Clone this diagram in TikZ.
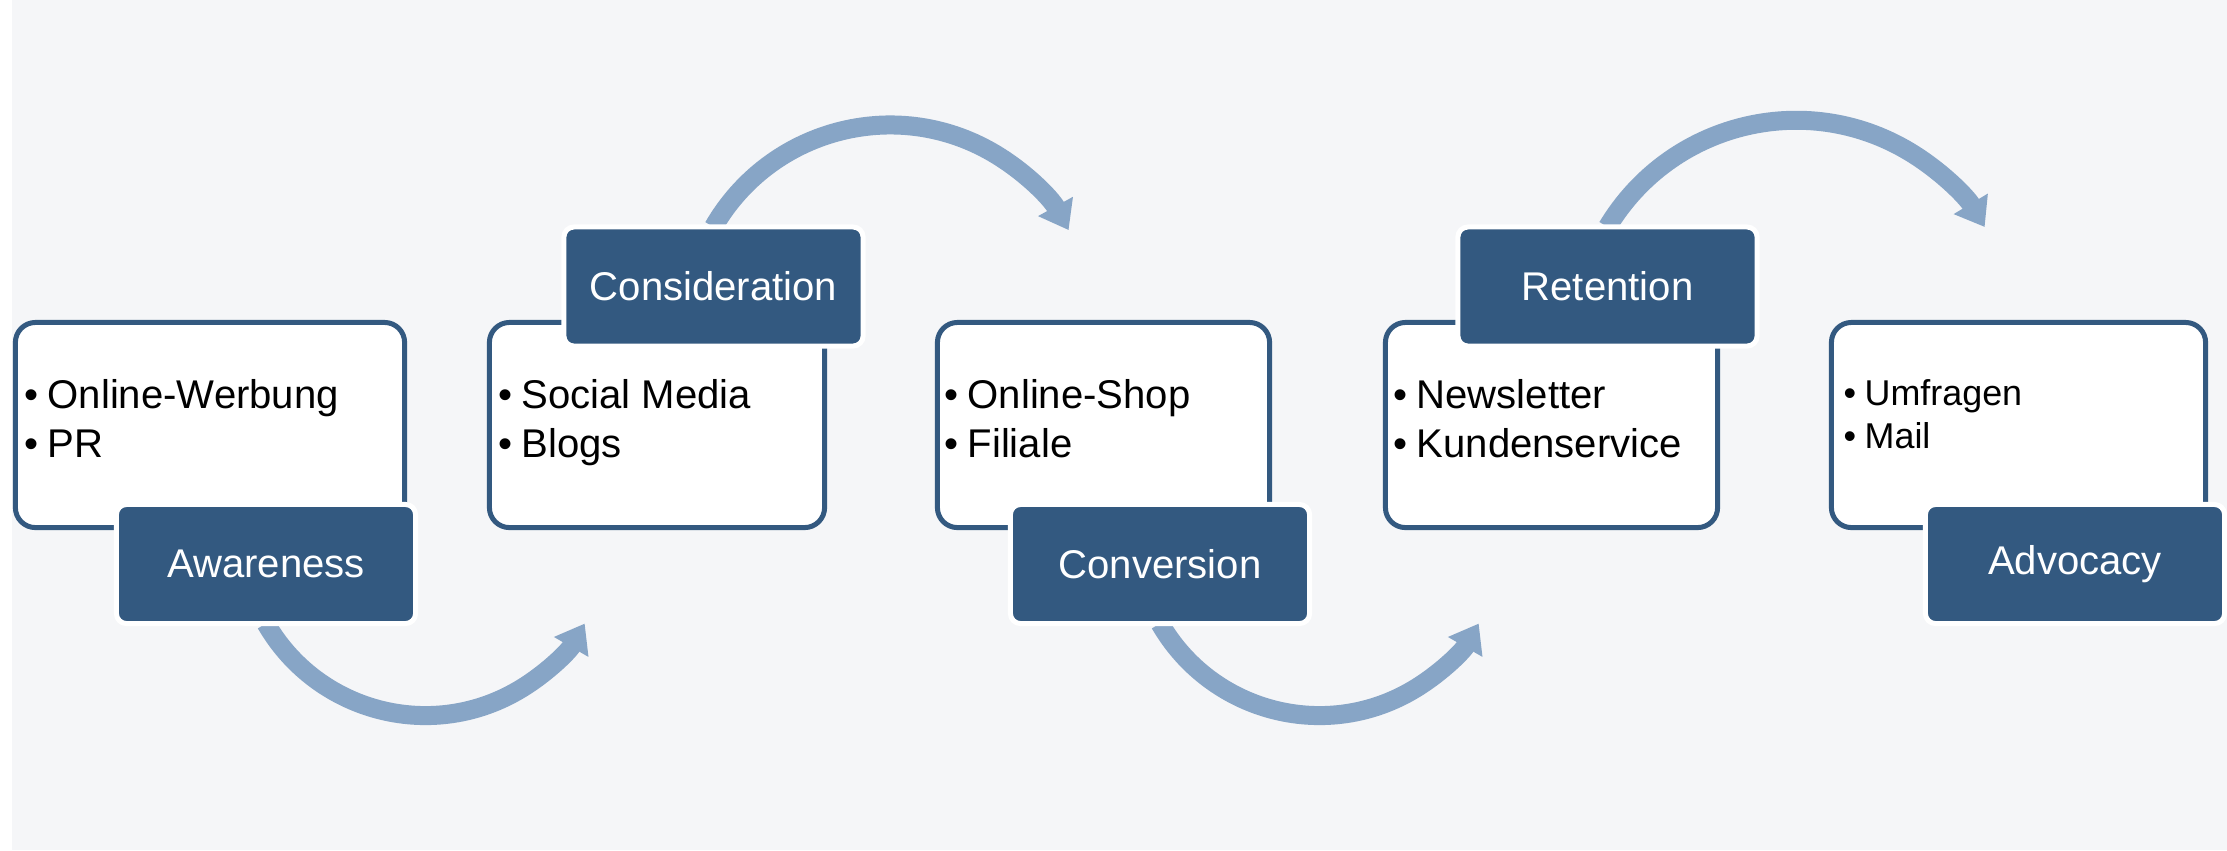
\documentclass[tikz,border=0pt]{standalone}
\usepackage{fontspec}
\setmainfont{Liberation Sans}
\usetikzlibrary{arrows.meta}
\definecolor{stageblue}{RGB}{51,89,128}
\definecolor{flowblue}{RGB}{135,165,198}
\definecolor{paper}{RGB}{245,246,248}
\pgfdeclarelayer{bg}
\pgfdeclarelayer{flow}
\pgfsetlayers{bg,flow,main}
\tikzset{
  listbox/.style={draw=stageblue, line width=0.05cm, fill=white, rounded corners=0.2cm,
    minimum height=2.05cm, inner sep=0pt},
  stage/.style={draw=white, line width=0.05cm, fill=stageblue, rounded corners=0.1cm,
    minimum width=2.99cm, minimum height=1.19cm, inner sep=0pt, outer sep=0pt,
    text=white, font=\fontsize{11.4}{13.7}\selectfont},
  items/.style={anchor=base west, inner sep=0pt, font=\fontsize{11.4}{14.2}\selectfont},
  smallitems/.style={anchor=base west, inner sep=0pt, font=\fontsize{10.2}{12.5}\selectfont},
  flowarrow/.style={draw=flowblue, line width=0.19cm, -{Triangle[length=0.27cm,width=0.38cm]}},
}
\newcommand{\bul}{\makebox[0.23cm][l]{•}}
\newcommand{\smallbul}{\makebox[0.21cm][l]{•}}
\begin{document}
\begin{tikzpicture}[x=0.01cm, y=-0.01cm]
  \useasboundingbox (0,0) rectangle (2227,850);
  \begin{pgfonlayer}{bg}
    \fill[paper] (12,0) rectangle (2227,850);
  \end{pgfonlayer}
  % white boxes with the channels
  \node[listbox, minimum width=3.89cm] (box1) at (210,425) {};
  \node[listbox, minimum width=3.35cm] (box2) at (657,425) {};
  \node[listbox, minimum width=3.32cm] (box3) at (1103.5,425) {};
  \node[listbox, minimum width=3.32cm] (box4) at (1551.5,425) {};
  \node[listbox, minimum width=3.74cm] (box5) at (2018.5,425) {};
  \node[items] (list1) at (24,408) {\begin{tabular}[t]{@{}l@{}}\bul Online-Werbung\\\bul PR\end{tabular}};
  \node[items] (list2) at (498,408) {\begin{tabular}[t]{@{}l@{}}\bul Social Media\\\bul Blogs\end{tabular}};
  \node[items] (list3) at (944,408) {\begin{tabular}[t]{@{}l@{}}\bul Online-Shop\\\bul Filiale\end{tabular}};
  \node[items] (list4) at (1393,408) {\begin{tabular}[t]{@{}l@{}}\bul Newsletter\\\bul Kundenservice\end{tabular}};
  \node[smallitems] (list5) at (1843,405) {\begin{tabular}[t]{@{}l@{}}\smallbul Umfragen\\\smallbul Mail\end{tabular}};
  % stage labels
  \node[stage] (aware) at (266,564) {Awareness};
  \node[stage] (consid) at (713.5,286.5) {Consideration};
  \node[stage] (conv) at (1160,564) {Conversion};
  \node[stage] (reten) at (1607.5,286.5) {Retention};
  \node[stage] (advoc) at (2075,564) {Advocacy};
  % arrows between the stages
  \begin{pgfonlayer}{flow}
    \draw[flowarrow] (aware.south) arc[start angle=150, end angle=30, radius=184];
    \draw[flowarrow] (consid.north) arc[start angle=-150, end angle=-29, radius=204];
    \draw[flowarrow] (conv.south) arc[start angle=150, end angle=30, radius=184];
    \draw[flowarrow] (reten.north) arc[start angle=-149, end angle=-31, radius=220];
  \end{pgfonlayer}
\end{tikzpicture}
\end{document}
